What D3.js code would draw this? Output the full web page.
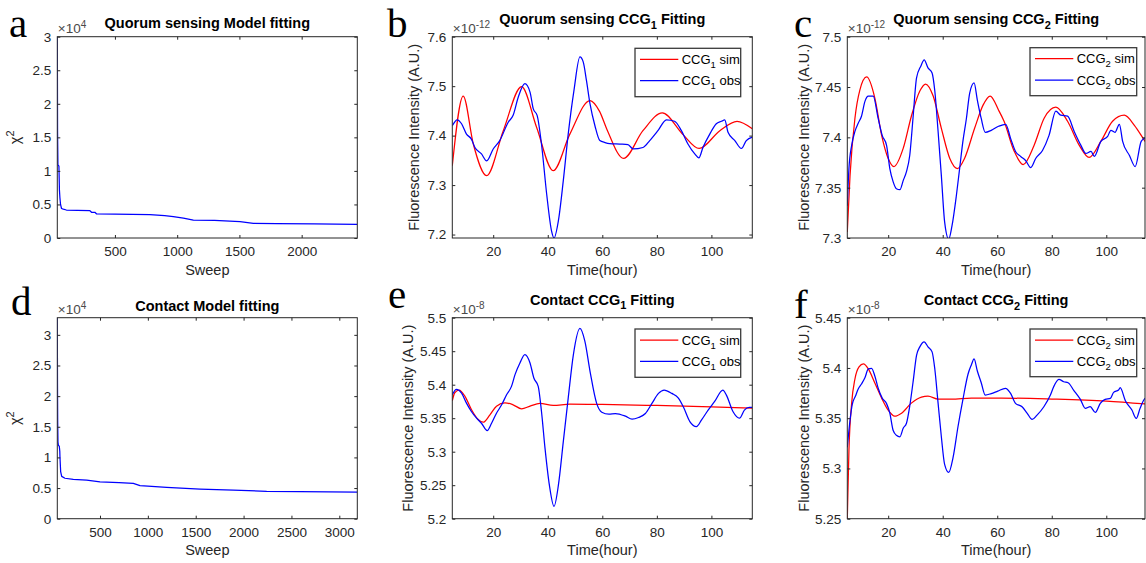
<!DOCTYPE html>
<html><head><meta charset="utf-8">
<script src="https://cdnjs.cloudflare.com/ajax/libs/d3/7.8.5/d3.min.js"></script>
<style>
body{margin:0;background:#fff}
svg{display:block}
text{font-family:"Liberation Sans",Arial,sans-serif}
</style>
</head><body>
<svg id="chart" width="1146" height="563"></svg>
<script>
// ---------------- DATA ----------------
// Panel a: chi^2 vs sweep (x1e4)
const sweepA = [37, 38, 39, 42, 50, 52, 54, 58, 63, 71, 85, 110, 200, 299, 312, 339, 353, 500, 781, 900, 969, 1050, 1130, 1300, 1505, 1612, 1800, 2100, 2447];
const chiA   = [3.0, 2.4, 1.6, 1.09, 1.07, 0.9, 0.72, 0.6, 0.5, 0.44, 0.43, 0.417, 0.412, 0.407, 0.383, 0.383, 0.358, 0.355, 0.348, 0.335, 0.318, 0.295, 0.268, 0.262, 0.243, 0.219, 0.214, 0.21, 0.204];
// Panel d
const sweepD = [54, 56, 58, 61, 65, 75, 80, 82, 89, 100, 134, 221, 361, 500, 700, 848, 918, 1000, 1196, 1545, 1893, 2241, 2589, 3188];
const chiD   = [3.28, 2.2, 1.6, 1.25, 1.2, 1.18, 1.1, 1.0, 0.77, 0.69, 0.66, 0.64, 0.63, 0.60, 0.59, 0.577, 0.54, 0.53, 0.51, 0.484, 0.468, 0.446, 0.44, 0.435];

// Panel b: Quorum sensing CCG1 (x1e-12)
const simBt = [5, 9.0, 12.7, 17.6, 23.7, 30.4, 35.9, 42.0, 48.1, 55.5, 59.0, 61.7, 67.8, 74.9, 82.0, 89.6, 95.5, 103.1, 109.4, 115];
const simBv = [7.339, 7.48, 7.383, 7.319, 7.41, 7.499, 7.417, 7.329, 7.403, 7.471, 7.449, 7.4125, 7.354, 7.41, 7.446, 7.402, 7.374, 7.41, 7.429, 7.414];
const obsBt = [5, 6.8, 8.4, 10.2, 12.0, 13.3, 15.7, 17.6, 20, 22.4, 25.5, 27.3, 29.2, 31.6, 33.5, 34.7, 36.1, 37.7, 39.6, 41.4, 42.3, 43.9, 45.7, 47.5, 49.6, 51.8, 53.0, 54.2, 55.5, 57.3, 59.1, 61.0, 62.7, 66.4, 69.4, 71.3, 74.9, 77.4, 80.4, 83.5, 86.5, 89.0, 91.4, 93.9, 95.4, 96.9, 99.4, 101.8, 103.7, 104.9, 106.1, 108.6, 111.0, 112.8, 115];
const obsBv = [7.420, 7.432, 7.424, 7.403, 7.393, 7.376, 7.363, 7.349, 7.373, 7.39, 7.427, 7.441, 7.478, 7.505, 7.488, 7.454, 7.441, 7.383, 7.282, 7.207, 7.193, 7.228, 7.309, 7.403, 7.491, 7.559, 7.549, 7.511, 7.464, 7.420, 7.390, 7.386, 7.384, 7.383, 7.382, 7.373, 7.376, 7.39, 7.41, 7.432, 7.429, 7.41, 7.383, 7.363, 7.355, 7.376, 7.403, 7.424, 7.429, 7.432, 7.407, 7.39, 7.374, 7.39, 7.397];

// Panel c: Quorum sensing CCG2 (x1e-12)
const simCt = [5, 6, 7.8, 9.6, 12.1, 15.1, 17.6, 20, 22.1, 25.5, 28.5, 31.6, 33.7, 36.5, 39.5, 42.6, 45.4, 48, 51.7, 54.8, 57.4, 60.5, 62.5, 66.1, 69.5, 73.5, 77.2, 81.5, 85.8, 90.1, 93.7, 98.0, 102.3, 106.6, 110.3, 114, 115];
const simCv = [7.306, 7.362, 7.419, 7.447, 7.46, 7.439, 7.402, 7.379, 7.371, 7.389, 7.421, 7.446, 7.453, 7.441, 7.409, 7.379, 7.369, 7.379, 7.409, 7.432, 7.441, 7.427, 7.416, 7.387, 7.373, 7.392, 7.419, 7.43, 7.416, 7.392, 7.38, 7.396, 7.416, 7.422, 7.412, 7.397, 7.393];
const obsCt = [5, 5.6, 6.6, 7.8, 9.0, 10.2, 11.5, 12.7, 14.5, 16.3, 17.8, 19.4, 20.6, 21.8, 23.0, 24.3, 25.5, 26.7, 27.9, 29.1, 30.4, 32.0, 33.2, 34.6, 36.1, 37.1, 38.3, 39.5, 40.7, 42.2, 43.4, 45.0, 46.2, 47.4, 48.7, 49.9, 51.5, 52.7, 54.1, 55.6, 57.8, 60.5, 63.1, 64.9, 66.7, 68.6, 70.4, 72.3, 74.1, 76.6, 79.0, 81.5, 83.3, 85.8, 88.2, 90.7, 92.5, 94.4, 95.6, 98.0, 100.5, 101.7, 103.2, 104.8, 106.0, 108.5, 110.6, 112.8, 114, 115];
const obsCv = [7.332, 7.369, 7.392, 7.406, 7.414, 7.421, 7.436, 7.441, 7.441, 7.419, 7.402, 7.392, 7.369, 7.356, 7.349, 7.348, 7.357, 7.366, 7.382, 7.419, 7.459, 7.471, 7.477, 7.469, 7.464, 7.446, 7.406, 7.362, 7.316, 7.299, 7.312, 7.342, 7.369, 7.396, 7.419, 7.444, 7.454, 7.437, 7.419, 7.405, 7.407, 7.411, 7.413, 7.399, 7.386, 7.381, 7.377, 7.37, 7.379, 7.387, 7.402, 7.426, 7.422, 7.421, 7.406, 7.392, 7.384, 7.386, 7.381, 7.396, 7.401, 7.407, 7.405, 7.413, 7.396, 7.382, 7.371, 7.396, 7.399, 7.401];

// Panel e: Contact CCG1 (x1e-8)
const simEt = [5, 5.9, 7.5, 9.6, 12.0, 14.5, 16.3, 18.8, 21.2, 24.3, 27.3, 30.4, 33.5, 37.1, 42, 48.1, 60, 80, 100, 115];
const simEv = [5.376, 5.388, 5.392, 5.383, 5.363, 5.348, 5.344, 5.355, 5.368, 5.373, 5.37, 5.364, 5.368, 5.372, 5.369, 5.371, 5.3705, 5.369, 5.367, 5.365];
const obsEt = [5, 6.5, 8.4, 10.2, 12.0, 13.9, 15.7, 17.8, 19.4, 21.2, 23.1, 24.9, 26.7, 28.0, 29.8, 31.6, 33.5, 34.9, 36.5, 37.7, 39.0, 40.6, 42.3, 43.9, 45.7, 47.5, 49.4, 51.8, 53.6, 55.5, 57.9, 59.8, 62.4, 64.8, 68.5, 70.9, 73.3, 75.8, 78.2, 80.6, 82.7, 85.5, 87.9, 89.7, 92.1, 94.5, 96.4, 98.8, 101.2, 104.2, 105.5, 107.9, 110.3, 112.1, 113.9, 115];
const obsEv = [5.385, 5.393, 5.3875, 5.3725, 5.36, 5.35, 5.3425, 5.3315, 5.3425, 5.3575, 5.37, 5.385, 5.3975, 5.415, 5.4325, 5.445, 5.4325, 5.41, 5.3975, 5.36, 5.305, 5.25, 5.2185, 5.25, 5.315, 5.38, 5.445, 5.484, 5.465, 5.42, 5.3725, 5.359, 5.356, 5.357, 5.353, 5.3485, 5.351, 5.357, 5.372, 5.387, 5.392, 5.387, 5.38, 5.367, 5.345, 5.3375, 5.3475, 5.362, 5.375, 5.392, 5.3845, 5.36, 5.35, 5.362, 5.366, 5.366];

// Panel f: Contact CCG2 (x1e-8)
const simFt = [5, 5.6, 6.6, 7.8, 9.3, 10.9, 12.7, 15.1, 17.6, 20, 22.4, 24.9, 28.5, 32.2, 34.6, 38.3, 43.2, 50.5, 61.5, 80, 100, 115];
const simFv = [5.25, 5.318, 5.365, 5.389, 5.401, 5.404, 5.399, 5.385, 5.37, 5.358, 5.352, 5.355, 5.365, 5.371, 5.372, 5.369, 5.369, 5.37, 5.37, 5.369, 5.367, 5.364];
const obsFt = [5, 6, 6.8, 8.0, 9.0, 10.2, 11.5, 12.7, 13.9, 15.1, 16.3, 17.8, 19.4, 20.6, 21.8, 23.0, 24.3, 25.5, 26.7, 27.9, 29.1, 30.4, 31.6, 33.2, 34.6, 36.1, 37.1, 38.3, 39.5, 40.7, 42.2, 43.8, 45.6, 47.4, 49.3, 50.5, 51.5, 52.7, 54.1, 55.6, 57.8, 60.2, 63.0, 64.9, 66.7, 69.1, 71.0, 72.8, 74.6, 77.1, 79.5, 80.7, 82.6, 84.4, 86.0, 88.0, 90.5, 92.3, 94.1, 96.0, 97.8, 99.6, 101.5, 102.7, 104.5, 105.1, 107.0, 109.4, 111.0, 112.4, 114.3, 115];
const obsFv = [5.321, 5.348, 5.3635, 5.372, 5.379, 5.384, 5.3905, 5.399, 5.3995, 5.392, 5.380, 5.370, 5.3645, 5.355, 5.338, 5.333, 5.3315, 5.34, 5.345, 5.362, 5.3855, 5.4125, 5.421, 5.426, 5.421, 5.416, 5.399, 5.365, 5.3315, 5.304, 5.296, 5.311, 5.3415, 5.3685, 5.394, 5.403, 5.409, 5.397, 5.3855, 5.373, 5.3745, 5.377, 5.3797, 5.3747, 5.3648, 5.3614, 5.3548, 5.3488, 5.3531, 5.3614, 5.373, 5.3813, 5.3886, 5.3863, 5.3853, 5.378, 5.3687, 5.3598, 5.3614, 5.3558, 5.3648, 5.3687, 5.3697, 5.3757, 5.378, 5.3803, 5.3674, 5.3581, 5.3498, 5.3598, 5.3697, 5.37];

// Tick values / labels
const sweepTicksA = [500, 1000, 1500, 2000];
const sweepTicksD = [500, 1000, 1500, 2000, 2500, 3000];
const chiTicks = [0, 0.5, 1, 1.5, 2, 2.5, 3];
const timeTicks = [20, 40, 60, 80, 100];
const yTicksB = [7.2, 7.3, 7.4, 7.5, 7.6];
const yTicksC = [7.3, 7.35, 7.4, 7.45, 7.5];
const yTicksE = [5.2, 5.25, 5.3, 5.35, 5.4, 5.45, 5.5];
const yTicksF = [5.25, 5.3, 5.35, 5.4, 5.45];

// ---------------- LAYOUT ----------------
const axisColor = "#262626";
const TOP1 = 36.7, BOT1 = 238, TOP2 = 317.7, BOT2 = 518.7;
const COL = [[57.3, 357.3], [452.3, 752.3], [847.3, 1145]];

const panels = [
  {letter:"a", lx:9, ly:36.6, col:0, top:TOP1, bottom:BOT1, xDomain:[37, 2447], yDomain:[0, 3],
   xTicks:sweepTicksA, yTicks:chiTicks, exp:"4", title:["Quorum sensing Model fitting"], titleY:28.3,
   xLabel:"Sweep", yLabel:"chi", yLabelX:20,
   series:[{x:sweepA, y:chiA, color:"#0000ff", curve:d3.curveLinear}]},
  {letter:"b", lx:387, ly:36.6, col:1, top:TOP1, bottom:BOT1, xDomain:[5, 115], yDomain:[7.193, 7.6],
   xTicks:timeTicks, yTicks:yTicksB, exp:"-12", title:["Quorum sensing CCG","1"," Fitting"], titleY:24,
   xLabel:"Time(hour)", yLabel:"fl", yLabelX:419,
   legend:{x:635, y:48.3, w:105.7, h:48.4, sub:"1"},
   series:[{x:simBt, y:simBv, color:"#ff0000", curve:d3.curveMonotoneX},
           {x:obsBt, y:obsBv, color:"#0000ff", curve:d3.curveMonotoneX}]},
  {letter:"c", lx:794, ly:36.6, col:2, top:TOP1, bottom:BOT1, xDomain:[5, 114.2], yDomain:[7.3, 7.5],
   xTicks:timeTicks, yTicks:yTicksC, exp:"-12", title:["Quorum sensing CCG","2"," Fitting"], titleY:24,
   xLabel:"Time(hour)", yLabel:"fl", yLabelX:809,
   legend:{x:1030, y:47.7, w:106.7, h:48, sub:"2"},
   series:[{x:simCt, y:simCv, color:"#ff0000", curve:d3.curveMonotoneX},
           {x:obsCt, y:obsCv, color:"#0000ff", curve:d3.curveMonotoneX}]},
  {letter:"d", lx:11, ly:315, col:0, top:TOP2, bottom:BOT2, xDomain:[54, 3188], yDomain:[0, 3.28],
   xTicks:sweepTicksD, yTicks:chiTicks, exp:"4", title:["Contact Model fitting"], titleY:311,
   xLabel:"Sweep", yLabel:"chi", yLabelX:20,
   series:[{x:sweepD, y:chiD, color:"#0000ff", curve:d3.curveLinear}]},
  {letter:"e", lx:388, ly:308, col:1, top:TOP2, bottom:BOT2, xDomain:[5, 115], yDomain:[5.2, 5.5],
   xTicks:timeTicks, yTicks:yTicksE, exp:"-8", title:["Contact CCG","1"," Fitting"], titleY:304.5,
   xLabel:"Time(hour)", yLabel:"fl", yLabelX:413,
   legend:{x:635, y:329, w:105.7, h:48.3, sub:"1"},
   series:[{x:simEt, y:simEv, color:"#ff0000", curve:d3.curveMonotoneX},
           {x:obsEt, y:obsEv, color:"#0000ff", curve:d3.curveMonotoneX}]},
  {letter:"f", lx:794, ly:318, col:2, top:TOP2, bottom:BOT2, xDomain:[5, 114.2], yDomain:[5.25, 5.45],
   xTicks:timeTicks, yTicks:yTicksF, exp:"-8", title:["Contact CCG","2"," Fitting"], titleY:305,
   xLabel:"Time(hour)", yLabel:"fl", yLabelX:809,
   legend:{x:1030, y:329, w:106.7, h:47.7, sub:"2"},
   series:[{x:simFt, y:simFv, color:"#ff0000", curve:d3.curveMonotoneX},
           {x:obsFt, y:obsFv, color:"#0000ff", curve:d3.curveMonotoneX}]}
];

const svg = d3.select("#chart");
const defs = svg.append("defs");

function fmt(v){ return String(+v.toFixed(4)); }

panels.forEach(p => {
  const left = COL[p.col][0], right = COL[p.col][1];
  const x = d3.scaleLinear().domain(p.xDomain).range([left, right]);
  const y = d3.scaleLinear().domain(p.yDomain).range([p.bottom, p.top]);
  const g = svg.append("g");
  const clipId = "clip-" + p.letter;
  defs.append("clipPath").attr("id", clipId).append("rect")
    .attr("x", left).attr("y", p.top).attr("width", right - left).attr("height", p.bottom - p.top);

  // series
  p.series.forEach(s => {
    const pts = d3.zip(s.x, s.y);
    g.append("path").datum(pts)
      .attr("clip-path", `url(#${clipId})`)
      .attr("fill", "none").attr("stroke", s.color).attr("stroke-width", 1.25)
      .attr("stroke-linejoin", "round")
      .attr("d", d3.line().x(d => x(d[0])).y(d => y(d[1])).curve(s.curve));
  });

  // axes
  const styleAxis = sel => {
    sel.select(".domain").remove();
    sel.selectAll(".tick line").attr("stroke", axisColor).attr("stroke-width", 1);
    sel.selectAll(".tick text").attr("fill", axisColor).style("font-size", "13.5px")
      .style("font-family", '"Liberation Sans", Arial, sans-serif');
  };
  g.append("g").attr("transform", `translate(0,${p.bottom})`)
    .call(d3.axisBottom(x).tickValues(p.xTicks).tickSizeInner(-3).tickSizeOuter(0).tickPadding(8.5).tickFormat(fmt))
    .call(styleAxis);
  g.append("g").attr("transform", `translate(0,${p.top})`)
    .call(d3.axisTop(x).tickValues(p.xTicks).tickSizeInner(-3).tickSizeOuter(0).tickFormat(""))
    .call(styleAxis);
  g.append("g").attr("transform", `translate(${left},0)`)
    .call(d3.axisLeft(y).tickValues(p.yTicks).tickSizeInner(-3).tickSizeOuter(0).tickPadding(6).tickFormat(fmt))
    .call(styleAxis);
  g.append("g").attr("transform", `translate(${right},0)`)
    .call(d3.axisRight(y).tickValues(p.yTicks).tickSizeInner(-3).tickSizeOuter(0).tickFormat(""))
    .call(styleAxis);

  // box
  g.append("rect").attr("x", left).attr("y", p.top).attr("width", right - left).attr("height", p.bottom - p.top)
    .attr("fill", "none").attr("stroke", axisColor).attr("stroke-width", 1);

  // exponent
  const ex = g.append("text").attr("x", left + 0.5).attr("y", p.top - 3.5)
    .attr("fill", "#4a4a4a").style("font-size", "13.5px");
  ex.append("tspan").text("×10");
  ex.append("tspan").attr("dy", -5.5).style("font-size", "10px").text(p.exp);

  // title
  const cx = (left + right) / 2;
  const t = g.append("text").attr("x", cx).attr("y", p.titleY).attr("text-anchor", "middle")
    .attr("fill", "#000").style("font-size", "14.5px").style("font-weight", "bold");
  t.append("tspan").text(p.title[0]);
  if (p.title.length > 1) {
    t.append("tspan").attr("dy", 4.5).style("font-size", "11px").text(p.title[1]);
    t.append("tspan").attr("dy", -4.5).text(p.title[2]);
  }

  // x label
  g.append("text").attr("x", cx).attr("y", p.bottom + 36.5).attr("text-anchor", "middle")
    .attr("fill", axisColor).style("font-size", "14.5px").text(p.xLabel);

  // y label
  const cy = (p.top + p.bottom) / 2;
  const yl = g.append("text").attr("transform", `translate(${p.yLabelX},${cy}) rotate(-90)`)
    .attr("text-anchor", "middle").attr("fill", axisColor).style("font-size", "14.5px");
  if (p.yLabel === "chi") {
    yl.append("tspan").text("χ");
    yl.append("tspan").attr("dy", -6).style("font-size", "11px").text("2");
  } else {
    yl.text("Fluorescence Intensity (A.U.)");
  }

  // panel letter
  svg.append("text").attr("x", p.lx).attr("y", p.ly)
    .style("font-family", '"Liberation Serif","Times New Roman",serif').style("font-size", "41px")
    .attr("fill", "#000").text(p.letter);

  // legend
  if (p.legend) {
    const L = p.legend;
    const lg = g.append("g");
    lg.append("rect").attr("x", L.x).attr("y", L.y).attr("width", L.w).attr("height", L.h)
      .attr("fill", "#fff").attr("stroke", "#3a3a3a").attr("stroke-width", 1.3);
    const items = [{name:"sim", color:"#ff0000"}, {name:"obs", color:"#0000ff"}];
    items.forEach((it, i) => {
      const yy = L.y + 11 + i * 21.4;
      lg.append("line").attr("x1", L.x + 5).attr("x2", L.x + 43.3).attr("y1", yy).attr("y2", yy)
        .attr("stroke", it.color).attr("stroke-width", 1.25);
      const tx = lg.append("text").attr("x", L.x + 46.7).attr("y", yy + 4.5)
        .attr("fill", "#000").style("font-size", "13px");
      tx.append("tspan").text("CCG");
      tx.append("tspan").attr("dy", 4).style("font-size", "9.5px").text(L.sub);
      tx.append("tspan").attr("dy", -4).text(" " + it.name);
    });
  }
});
</script>
</body></html>
